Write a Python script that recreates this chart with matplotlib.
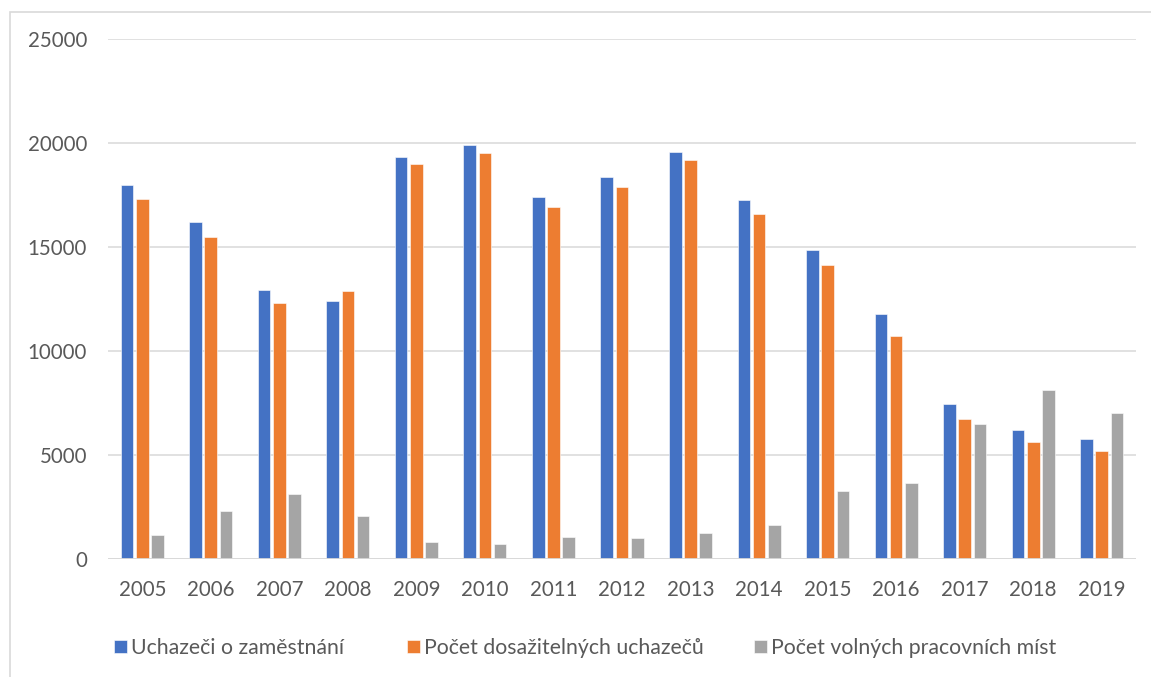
import matplotlib
matplotlib.use("Agg")
import matplotlib.pyplot as plt
from matplotlib.patches import Rectangle
import numpy as np

years = ["2005", "2006", "2007", "2008", "2009", "2010", "2011", "2012",
         "2013", "2014", "2015", "2016", "2017", "2018", "2019"]
uchazeci = [18000, 16210, 12950, 12420, 19320, 19910, 17430, 18390,
            19580, 17270, 14880, 11785, 7455, 6220, 5790]
dosazitelni = [17330, 15490, 12340, 12890, 19010, 19510, 16950, 17890,
               19190, 16610, 14140, 10755, 6734, 5625, 5195]
volna_mista = [1180, 2340, 3155, 2070, 820, 720, 1070, 1025,
               1265, 1635, 3270, 3670, 6490, 8130, 7050]
series_names = ["Uchazeči o zaměstnání", "Počet dosažitelných uchazečů",
                "Počet volných pracovních míst"]
colors = ["#4472C4", "#ED7D31", "#A5A5A5"]
y_ticks = [0, 5000, 10000, 15000, 20000, 25000]

plt.rcParams["font.family"] = ["Lato", "DejaVu Sans"]

W, H = 1151, 677
fig = plt.figure(figsize=(W / 100, H / 100), dpi=100)

# outer chart frame
fig.patches.append(Rectangle((10 / W, -0.05), 1.2, 1 - 12 / H + 0.05,
                             transform=fig.transFigure, fill=False,
                             edgecolor="#d9d9d9", linewidth=1.2))

left, right = 108, 1136
ax = fig.add_axes([left / W, 1 - 559.3 / H, (right - left) / W, (559.3 - 39.3) / H])

x = np.arange(len(years))
step = 0.2225
bw = 0.184
bars = []
for i, (vals, name, c) in enumerate(zip([uchazeci, dosazitelni, volna_mista],
                                        series_names, colors)):
    b = ax.bar(x + (i - 1) * step, vals, width=bw, color=c, label=name,
               edgecolor="white", linewidth=0.4, zorder=3)
    bars.append(b)

ax.set_xlim(-0.5, len(years) - 0.5)
ax.set_ylim(0, 25000)
ax.set_yticks(y_ticks)
ax.set_yticklabels([str(t) for t in y_ticks])
ax.set_xticks(x)
ax.set_xticklabels(years)
ax.grid(axis="y", color="#d9d9d9", linewidth=1.1, zorder=0)
ax.tick_params(axis="both", length=0, labelsize=14.8, labelcolor="#595959")
ax.tick_params(axis="y", pad=15)
ax.tick_params(axis="x", pad=15)
for s in ax.spines.values():
    s.set_visible(False)
ax.axhline(0, color="#d9d9d9", linewidth=1.3, zorder=4)

# legend entries placed one by one along the bottom row
legend_x = [114, 407, 754]
for b, name, lx in zip(bars, series_names, legend_x):
    leg = fig.legend([b], [name], loc="center left",
                     bbox_to_anchor=(lx / W, 1 - 648 / H),
                     frameon=False, fontsize=15.3, handlelength=0.62,
                     handleheight=0.62, handletextpad=0.18,
                     borderpad=0, borderaxespad=0)
    for t in leg.get_texts():
        t.set_color("#595959")

fig.savefig("out.png", dpi=100)
